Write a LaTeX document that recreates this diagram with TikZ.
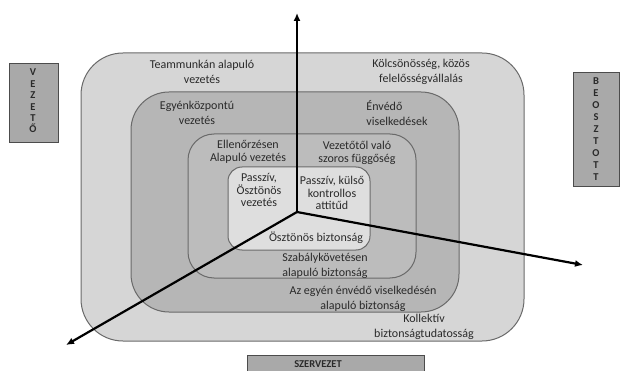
\documentclass[tikz,border=0pt]{standalone}
\usepackage{fontspec}
\setmainfont{Carlito}
\usetikzlibrary{arrows.meta}
\definecolor{ringA}{HTML}{D6D6D6}
\definecolor{ringB}{HTML}{B6B6B6}
\definecolor{ringC}{HTML}{BCBCBC}
\definecolor{ringD}{HTML}{DEDEDE}
\definecolor{edgeg}{HTML}{6A6A6A}
\definecolor{sideg}{HTML}{A9A9A9}
\definecolor{txt}{HTML}{2A2A2A}
\tikzset{
  ring/.style={draw=edgeg, line width=1pt},
  lbl/.style={text=txt, font=\fontsize{12}{15}\selectfont, align=center, inner sep=0pt},
  lblsm/.style={lbl, font=\fontsize{12}{12.5}\selectfont},
  sidebox/.style={draw=black!70, fill=sideg, line width=0.8pt},
  sidelbl/.style={font=\fontsize{10.5}{11.4}\selectfont\bfseries, text=txt, align=center, inner sep=0pt},
  axis/.style={line width=2.2pt, black, -{Latex[length=8pt,width=7pt]}}
}
\begin{document}
\begin{tikzpicture}[x=1pt,y=-1pt]
\useasboundingbox (0,0) rectangle (620,371);
% rings
\draw[ring, fill=ringA, rounded corners=42pt] (81,53) rectangle (524,341);
\draw[ring, fill=ringB, rounded corners=38pt] (131,92) rectangle (459,312);
\draw[ring, fill=ringC, rounded corners=26pt] (188,134) rectangle (416,278);
\draw[ring, fill=ringD, rounded corners=14pt] (228,167) rectangle (370,250);
% side boxes
\draw[sidebox] (9,63) rectangle (58,142);
\node[sidelbl] (vez) at (33,101) {V\\E\\Z\\E\\T\\Ő};
\draw[sidebox] (573,72) rectangle (619,186);
\node[sidelbl, font=\fontsize{10.5}{12}\selectfont\bfseries] (beo) at (596,129) {B\\E\\O\\S\\Z\\T\\O\\T\\T};
\draw[sidebox] (247,355) rectangle (424,375);
\node[sidelbl, anchor=base] (szer) at (318,367) {SZERVEZET};
% labels
\node[lbl] (t1) at (202,72) {Teammunkán alapuló\\vezetés};
\node[lbl] (t2) at (421,72) {Kölcsönösség, közös\\felelősségvállalás};
\node[lbl] (t3) at (197,113) {Egyénközpontú\\vezetés};
\node[lbl, align=left] (t4) at (397,113) {Énvédő\\viselkedések};
\node[lblsm] (t5) at (248,152) {Ellenőrzésen\\Alapuló vezetés};
\node[lblsm] (t6) at (357,153) {Vezetőtől való\\szoros függőség};
\node[lblsm] (t7) at (259,190) {Passzív,\\Ösztönös\\vezetés};
\node[lblsm] (t8) at (332,193) {Passzív, külső\\kontrollos\\attitűd};
\node[lbl] (t9) at (316,238) {Ösztönös biztonság};
\node[lbl] (t10) at (325,266) {Szabálykövetésen\\alapuló biztonság};
\node[lbl] (t11) at (363,299) {Az egyén énvédő viselkedésén\\alapuló biztonság};
\node[lbl] (t12) at (424,327) {Kollektív\\biztonságtudatosság};
% axes
\coordinate (O) at (297,212);
\coordinate (up) at (297,13);
\coordinate (dl) at (66,345);
\coordinate (rt) at (583,265);
\draw[axis] (O) -- (up);
\draw[axis] (O) -- (dl);
\draw[axis] (O) -- (rt);
\end{tikzpicture}
\end{document}
